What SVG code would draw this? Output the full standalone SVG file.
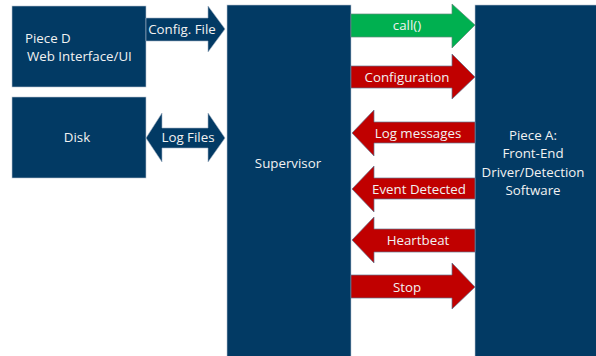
<svg xmlns="http://www.w3.org/2000/svg" width="596" height="356" viewBox="0 0 596 356">
<style>
.box{fill:#023a64;stroke:#b8c4d0;stroke-width:0.6}
.blue{fill:#023a64;stroke:#9fb0c2;stroke-width:0.6}
.red{fill:#c00000;stroke:#5f7590;stroke-width:0.7}
.green{fill:#00b050;stroke:#5f8a78;stroke-width:0.7}
text{font-family:"Open Sans","Liberation Sans",sans-serif;font-size:13.3px;fill:#f2f2f2;dominant-baseline:central}
.c{text-anchor:middle}
</style>
<rect width="596" height="356" fill="#ffffff"/>
<g id="pieceD">
<rect class="box" x="12" y="6" width="134" height="81"/>
<text x="25" y="38">Piece D</text>
<text x="27" y="56">Web Interface/UI</text>
</g>
<g id="disk">
<rect class="box" x="12" y="97" width="134" height="81"/>
<text class="c" x="77" y="137">Disk</text>
</g>
<g id="supervisor">
<rect class="box" x="227" y="5" width="124" height="352"/>
<text class="c" x="288" y="163">Supervisor</text>
</g>
<g id="pieceA">
<rect class="box" x="475" y="5" width="122" height="352"/>
<text class="c" x="533" y="135">Piece A:</text>
<text class="c" x="533" y="153">Front-End</text>
<text class="c" x="533" y="172">Driver/Detection</text>
<text class="c" x="533" y="190">Software</text>
</g>
<g id="connectors">
<g id="config-file">
<polygon class="blue" points="146,18 208,18 208,6 225,29 208,52 208,41 146,41"/>
<text class="c" x="182" y="29">Config. File</text>
</g>
<g id="log-files">
<polygon class="blue" points="146,138 162,113 162,128 208,128 208,113 225,138 208,162 208,148 162,148 162,162"/>
<text class="c" x="188" y="137">Log Files</text>
</g>
<g id="call">
<polygon class="green" points="351,14 452,14 452,4 475,25 452,48 452,37 351,37"/>
<text class="c" x="407" y="25">call()</text>
</g>
<g id="configuration">
<polygon class="red" points="351,66 452,66 452,54 475,77 452,99 452,88 351,88"/>
<text class="c" x="407" y="77">Configuration</text>
</g>
<g id="log-messages">
<polygon class="red" points="475,122 374,122 374,110 352,133 374,156 374,143 475,143"/>
<text class="c" x="418" y="133">Log messages</text>
</g>
<g id="event-detected">
<polygon class="red" points="475,178 374,178 374,166 352,189 374,212 374,199 475,199"/>
<text class="c" x="419" y="189">Event Detected</text>
</g>
<g id="heartbeat">
<polygon class="red" points="475,229 374,229 374,217 352,240 374,263 374,252 475,252"/>
<text class="c" x="418" y="240">Heartbeat</text>
</g>
<g id="stop">
<polygon class="red" points="351,275 452,275 452,263 475,287 452,309 452,298 351,298"/>
<text class="c" x="407" y="287">Stop</text>
</g>
</g>
</svg>
